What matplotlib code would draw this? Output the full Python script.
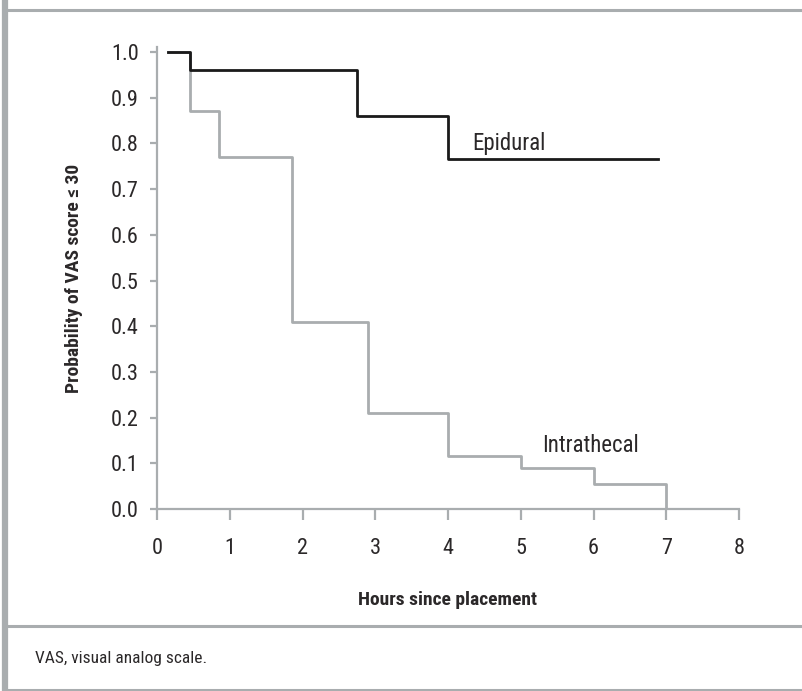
"""
Kaplan-Meier style step chart: probability of VAS score <= 30
by hours since placement, epidural vs intrathecal.
"""

import matplotlib
matplotlib.use("Agg")
import matplotlib.pyplot as plt
from matplotlib import font_manager
from matplotlib.lines import Line2D

# ─────────────────────────────────────────────
# data
epidural_hours = [0.15, 0.46, 2.75, 4.0, 6.88]
epidural_prob = [1.0, 0.96, 0.86, 0.765, 0.765]

intrathecal_hours = [0.15, 0.46, 0.85, 1.85, 2.9, 4.0, 5.0, 6.0, 7.0]
intrathecal_prob = [1.0, 0.87, 0.77, 0.41, 0.21, 0.115, 0.09, 0.055, 0.0]

x_ticks = list(range(0, 9))
y_ticks = [i / 10 for i in range(0, 11)]

GRAY = "#a9adaf"
INK = "#2b2829"

# prefer a condensed face if one is installed
installed = {f.name for f in font_manager.fontManager.ttflist}
wanted = ["Liberation Sans Narrow", "DejaVu Sans Condensed", "Roboto Condensed",
          "Open Sans Condensed", "Liberation Sans"]
FONT = [f for f in wanted if f in installed] + ["DejaVu Sans"]
plt.rcParams["font.family"] = FONT

fig = plt.figure(figsize=(8.02, 6.91), dpi=100)
W, H = 802, 691

ax = fig.add_axes([157 / W, 1 - 509 / H, (739 - 157) / W, (509 - 47) / H])

ax.step(intrathecal_hours, intrathecal_prob, where="post", color=GRAY, lw=2.0)
ax.step(epidural_hours, epidural_prob, where="post", color="#1a1a1a", lw=2.0)

ax.set_xlim(0, 8)
ax.set_ylim(0, 1.011)
ax.set_xticks(x_ticks)
ax.set_yticks(y_ticks)
ax.set_yticklabels([f"{v:.1f}" for v in y_ticks])

for side in ("top", "right"):
    ax.spines[side].set_visible(False)
for side in ("left", "bottom"):
    ax.spines[side].set_color(GRAY)
    ax.spines[side].set_linewidth(1.6)

ax.tick_params(axis="x", length=8, width=1.6, color=GRAY, labelsize=16,
               labelcolor=INK, pad=13)
ax.tick_params(axis="y", length=5, width=1.6, color=GRAY, labelsize=16,
               labelcolor=INK, pad=8)

ax.set_xlabel("Hours since placement", fontsize=14, fontweight="bold",
              color=INK, labelpad=23)
ax.set_ylabel("Probability of VAS score ≤ 30", fontsize=14, fontweight="bold",
              color=INK, labelpad=20)

ax.text(4.33, 0.80, "Epidural", fontsize=16.5, color=INK, va="center")
ax.text(5.3, 0.14, "Intrathecal", fontsize=16.5, color=INK, va="center")

# frame decorations (figure coordinates)
def hline(y_px, x0_px=5, x1_px=W, lw=2.2):
    fig.add_artist(Line2D([x0_px / W, x1_px / W], [1 - y_px / H, 1 - y_px / H],
                          color=GRAY, lw=lw, transform=fig.transFigure))

fig.add_artist(Line2D([4.5 / W, 4.5 / W], [0, 1], color=GRAY, lw=4.5,
                      transform=fig.transFigure))
hline(10)
hline(626)
hline(689.5)

fig.text(35 / W, 1 - 658 / H, "VAS, visual analog scale.", fontsize=12.5,
         color=INK, va="center")

plt.savefig("out.png", dpi=100)
